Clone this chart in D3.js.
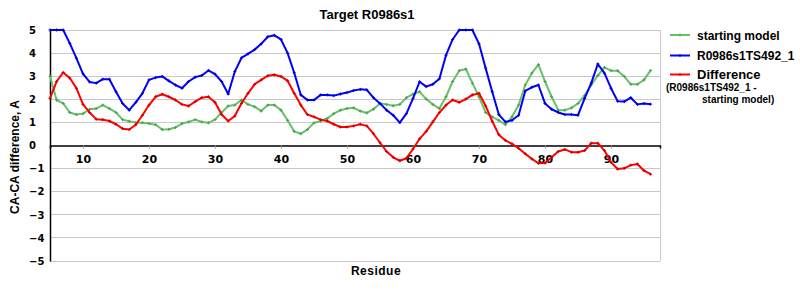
<!DOCTYPE html>
<html><head><meta charset="utf-8">
<script src="https://cdn.jsdelivr.net/npm/d3@7"></script>
<style>
body{margin:0;background:#fff;}
text{font-family:"Liberation Sans",Arial,sans-serif;font-weight:bold;fill:#000;}
.tick{font-family:"DejaVu Sans",Verdana,sans-serif;}
</style>
</head><body>
<svg id="chart" width="800" height="300"></svg>
<script>
const residues = [5,6,7,8,9,10,11,12,13,14,15,16,17,18,19,20,21,22,23,24,25,26,27,28,29,30,31,32,33,34,35,36,37,38,39,40,41,42,43,44,45,46,47,48,49,50,51,52,53,54,55,56,57,58,59,60,61,62,63,64,65,66,67,68,69,70,71,72,73,74,75,76,77,78,79,80,81,82,83,84,85,86,87,88,89,90,91,92,93,94,95,96];
const startingModel = [3.0,1.97,1.82,1.43,1.34,1.38,1.57,1.6,1.75,1.6,1.43,1.12,1.05,0.99,0.99,0.95,0.9,0.69,0.7,0.78,0.95,1.02,1.12,1.02,0.98,1.12,1.43,1.71,1.75,1.97,1.78,1.68,1.49,1.75,1.75,1.53,1.09,0.61,0.51,0.69,0.98,1.06,1.17,1.38,1.53,1.6,1.63,1.49,1.41,1.57,1.82,1.78,1.72,1.78,2.07,2.22,2.33,2.01,1.78,1.6,2.11,2.77,3.24,3.31,2.7,2.11,1.43,1.24,1.09,0.9,1.24,1.75,2.62,3.13,3.5,2.77,2.11,1.53,1.53,1.63,1.82,2.16,2.62,3.03,3.38,3.24,3.24,2.99,2.65,2.65,2.84,3.25];
const modelTS492 = [5,5,5,4.42,3.78,3.1,2.75,2.7,2.87,2.87,2.33,1.82,1.53,1.87,2.26,2.84,2.94,2.99,2.8,2.62,2.48,2.77,2.96,3.03,3.25,3.09,2.77,2.23,3.2,3.79,3.97,4.15,4.4,4.71,4.77,4.59,4.0,3.15,2.19,1.97,1.97,2.19,2.19,2.16,2.23,2.29,2.38,2.43,2.41,2.07,1.82,1.53,1.31,0.99,1.38,2.04,2.76,2.55,2.65,2.89,3.91,4.59,5,5,5,4.4,3.35,2.33,1.34,1.02,1.09,1.31,2.36,2.52,2.62,1.82,1.57,1.43,1.34,1.34,1.31,2.04,2.7,3.53,3.13,2.48,1.92,1.9,2.07,1.78,1.82,1.79];
const difference = [2.04,2.77,3.16,2.92,2.48,1.78,1.43,1.14,1.12,1.06,0.92,0.73,0.69,0.9,1.31,1.75,2.11,2.22,2.11,1.97,1.78,1.71,1.9,2.07,2.11,1.87,1.34,1.06,1.28,1.82,2.26,2.65,2.84,3.02,3.06,2.99,2.8,2.26,1.75,1.34,1.24,1.12,1.06,0.92,0.8,0.8,0.85,0.92,0.85,0.51,0.12,-0.26,-0.51,-0.66,-0.55,-0.15,0.29,0.61,1.02,1.43,1.75,1.97,1.87,2.01,2.19,2.26,1.72,1.05,0.47,0.22,0.07,-0.12,-0.36,-0.58,-0.77,-0.76,-0.51,-0.26,-0.17,-0.29,-0.29,-0.22,0.1,0.1,-0.22,-0.73,-1.02,-0.99,-0.85,-0.8,-1.09,-1.24];
const xTicks = [10,20,30,40,50,60,70,80,90];
const yTicks = [-5,-4,-3,-2,-1,0,1,2,3,4,5];
const seriesNames = ["starting model","R0986s1TS492_1","Difference"];
const seriesColors = ["#66c266","#0000ff","#ff0000"];

const svg = d3.select("#chart");
const x = d3.scaleLinear().domain([5,97.42]).range([50,660]);
const y = d3.scaleLinear().domain([-5,5]).range([261,30]);

// gridlines
svg.append("g").selectAll("line").data(yTicks.filter(d=>d!==0)).join("line")
  .attr("x1",x(5)).attr("x2",x(97.42)).attr("y1",d=>y(d)).attr("y2",d=>y(d))
  .attr("stroke","#c8c8c8").attr("stroke-width",1).attr("shape-rendering","crispEdges");
// right border
svg.append("line").attr("x1",x(97.42)).attr("x2",x(97.42)).attr("y1",y(5)).attr("y2",y(-5))
  .attr("stroke","#c8c8c8").attr("shape-rendering","crispEdges");

// zero axis with ticks
const xAxis = d3.axisBottom(x).tickValues(xTicks).tickSize(3).tickFormat(d3.format("d"));
const gx = svg.append("g").attr("transform",`translate(0,${y(0)})`).call(xAxis);
gx.select(".domain").attr("stroke","#000").attr("stroke-width",1.5);
gx.selectAll(".tick line").attr("stroke","#999");
gx.selectAll(".tick text").attr("class","tick").attr("dy",0).attr("y",17)
  .style("font-family","'DejaVu Sans',Verdana,sans-serif").style("font-weight","bold").style("font-size","11px");

// y axis
const yAxis = d3.axisLeft(y).tickValues(yTicks).tickSize(0).tickFormat(d=>d<0?"\u2212"+Math.abs(d):d);
const gy = svg.append("g").attr("transform",`translate(${x(5)},0)`).call(yAxis);
gy.select(".domain").attr("stroke","#000").attr("stroke-width",1.5);
gy.selectAll(".tick text").attr("text-anchor","start").attr("x",-21)
  .style("font-family","'DejaVu Sans',Verdana,sans-serif").style("font-weight","bold").style("font-size","10px");

// series
const allSeries = [startingModel, modelTS492, difference];
const line = d3.line().x((d,i)=>x(residues[i])).y(d=>y(d));
allSeries.forEach((vals,si)=>{
  const g = svg.append("g");
  g.append("path").datum(vals).attr("d",line).attr("fill","none")
    .attr("stroke",seriesColors[si]).attr("stroke-width",2).attr("stroke-linejoin","round");
  g.selectAll("path.m").data(vals).join("path").attr("class","m")
    .attr("d",(d,i)=>`M${x(residues[i])-1.5},${y(d)}h3M${x(residues[i])},${y(d)-1.5}v3`)
    .attr("stroke",d3.color(seriesColors[si]).darker(0.6)).attr("stroke-width",1);
});

// title
svg.append("text").attr("x",367).attr("y",19).attr("text-anchor","middle")
  .style("font-size","13px").text("Target R0986s1");
// axis titles
svg.append("text").attr("transform","translate(19,157) rotate(-90)").attr("text-anchor","middle")
  .style("font-size","12px").text("CA-CA difference, A");
svg.append("text").attr("x",376).attr("y",275).attr("text-anchor","middle")
  .style("font-size","12px").style("letter-spacing","0.5px").text("Residue");

// legend
const legY = [35, 55.5, 74.5];
legY.forEach((ly,i)=>{
  svg.append("line").attr("x1",670).attr("x2",690).attr("y1",ly).attr("y2",ly)
    .attr("stroke",seriesColors[i]).attr("stroke-width",2);
  svg.append("line").attr("x1",680).attr("x2",680).attr("y1",ly-1.5).attr("y2",ly+1.5)
    .attr("stroke",d3.color(seriesColors[i]).darker(0.6)).attr("stroke-width",1);
  svg.append("text").attr("x",697).attr("y",ly+4.5)
    .style("font-size", i===2?"13px":"12px").text(seriesNames[i]);
});
svg.append("text").attr("x",666).attr("y",91).style("font-size","10px").text("(R0986s1TS492_1 -");
svg.append("text").attr("x",702).attr("y",103).style("font-size","10px").text("starting model)");
</script>
</body></html>
